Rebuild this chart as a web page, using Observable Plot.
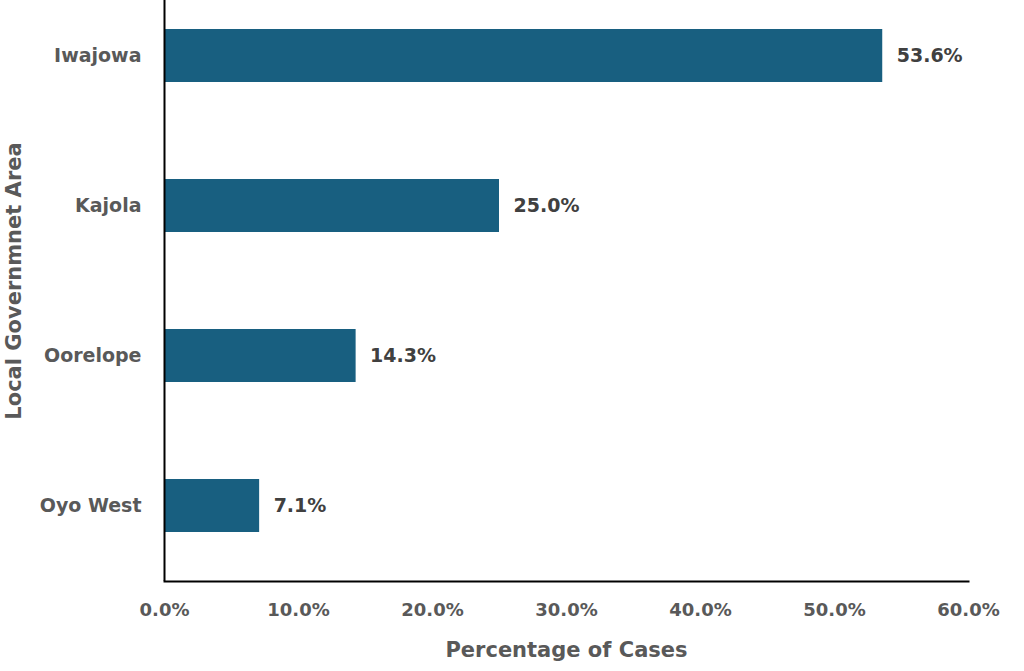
<!DOCTYPE html>
<html>
<head>
<meta charset="utf-8">
<script src="https://cdn.jsdelivr.net/npm/d3@7"></script>
<script src="https://cdn.jsdelivr.net/npm/@observablehq/plot@0.6"></script>
<style>
  html, body { margin: 0; padding: 0; background: #fff; }
  #chart svg { display: block; }
</style>
</head>
<body>
<div id="chart"></div>
<script>
const areas = ["Iwajowa", "Kajola", "Oorelope", "Oyo West"];
const percentages = [53.6, 25.0, 14.3, 7.1];
const xTicks = [0, 10, 20, 30, 40, 50, 60];
const xTitle = "Percentage of Cases";
const yTitle = "Local Governmnet Area";

const data = areas.map((a, i) => ({area: a, value: percentages[i]}));
const font = "'DejaVu Sans', Verdana, sans-serif";
const fmt = d => d.toFixed(1) + "%";

const chart = Plot.plot({
  width: 1024,
  height: 671,
  marginLeft: 164,
  marginRight: 56,
  marginTop: 0,
  marginBottom: 90,
  style: {fontFamily: font, background: "#fff", overflow: "visible"},
  x: {domain: [0, 60], ticks: xTicks},
  y: {domain: areas, range: [-19.5, 580.5], paddingInner: 0.647, paddingOuter: 0.3235},
  marks: [
    Plot.barX(data, {x: "value", y: "area", fill: "#185f80"}),
    Plot.text(data, {x: "value", y: "area", text: d => fmt(d.value), textAnchor: "start", dx: 14,
      fill: "#404040", fontSize: 19, fontWeight: "bold"}),
    Plot.axisX({ticks: xTicks, tickFormat: fmt, tickSize: 0, tickPadding: 22, label: null,
      fill: "#595959", fontSize: 18, fontWeight: "bold"}),
    Plot.axisY({tickSize: 0, tickPadding: 23, label: null,
      fill: "#595959", fontSize: 19, fontWeight: "bold"}),
    Plot.ruleX([0], {stroke: "#000", strokeWidth: 2}),
    Plot.frame({anchor: "bottom", stroke: "#000", strokeWidth: 2}),
    Plot.text([xTitle], {frameAnchor: "bottom", dy: 69, lineAnchor: "middle",
      fill: "#595959", fontSize: 21, fontWeight: "bold"}),
    Plot.text([yTitle], {frameAnchor: "left", dx: -150, dy: -10, rotate: -90, textAnchor: "middle",
      lineAnchor: "middle", fill: "#595959", fontSize: 21, fontWeight: "bold"})
  ]
});
document.getElementById("chart").appendChild(chart);
</script>
</body>
</html>
